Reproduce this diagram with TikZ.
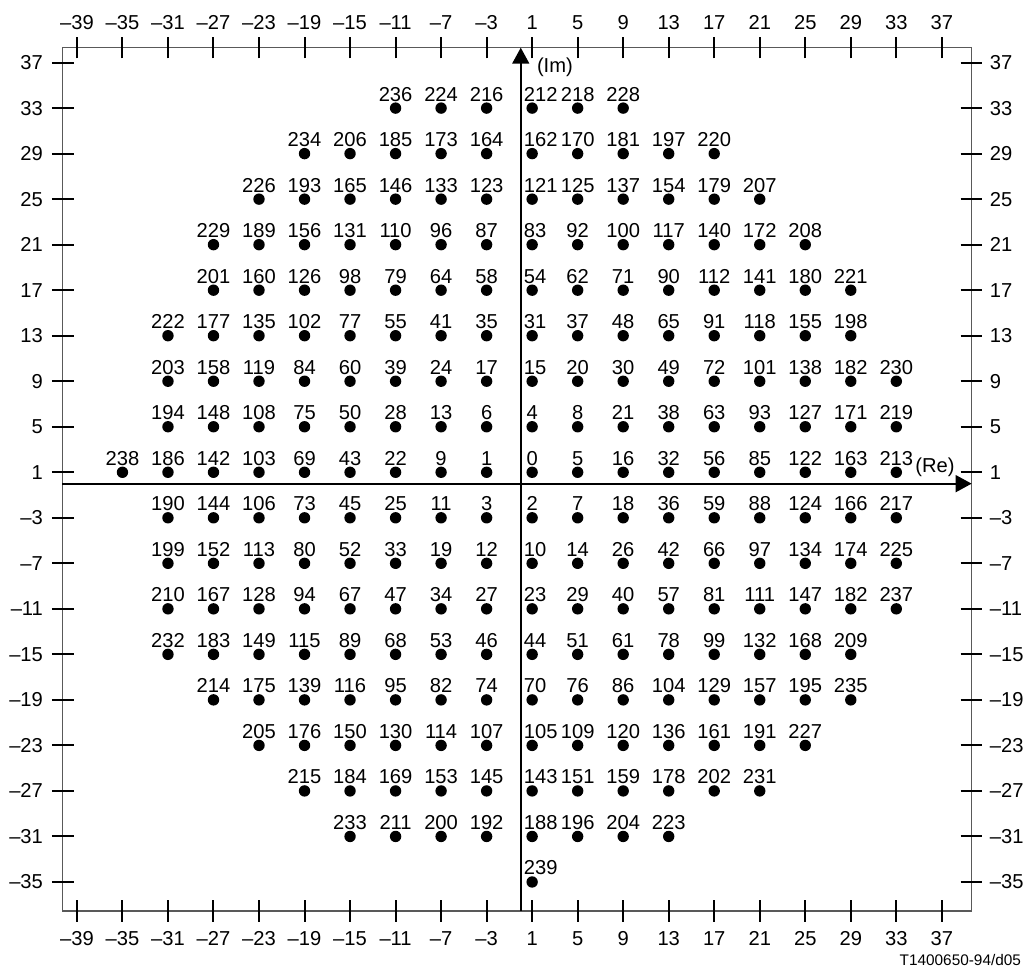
\documentclass[tikz,border=0pt]{standalone}
\usepackage{fontspec}
\setmainfont{Liberation Sans}
\usetikzlibrary{arrows.meta}

\begin{document}
\begin{tikzpicture}[
  x=0.25cm, y=0.25cm,
  font=\fontsize{12.6}{15}\selectfont,
  frm/.style={draw=black!65, line width=0.8pt},
  tck/.style={draw=black, line width=1.25pt},
  axis/.style={draw=black, line width=1.4pt, -{Triangle[length=10pt,width=10.5pt]}},
  dot/.style={circle, fill=black, minimum size=0.25cm, inner sep=0pt},
  lbl/.style={inner sep=0pt, anchor=base},
  tlbl/.style={inner sep=0pt},
]
\useasboundingbox (-45.76,-42.65) rectangle (44.22,42.5);

%% ====================================================
%% Frame, ticks and tick labels
%% ====================================================
\coordinate (fsw) at (-40.29,-37.55);
\coordinate (fne) at (39.62,38.31);
\draw[frm] (fsw) rectangle (fne);

\foreach \t in {-39,-35,...,37} {
  \pgfmathtruncatemacro\a{abs(\t)}
  \draw[tck] (\t,37.36) -- (\t,39.26);
  \draw[tck] (\t,-38.5) -- (\t,-36.6);
  \node[tlbl, anchor=base] (tt\t) at (\t,39.9) {\ifnum\t<0 --\fi\a};
  \node[tlbl, anchor=base] (tb\t) at (\t,-40.62) {\ifnum\t<0 --\fi\a};
}
\foreach \t in {-35,-31,...,37} {
  \pgfmathtruncatemacro\a{abs(\t)}
  \draw[tck] (-41.2,\t) -- (-39.3,\t);
  \draw[tck] (38.65,\t) -- (40.55,\t);
  \node[tlbl, anchor=east] (tl\t) at (-41.96,\t) {\ifnum\t<0 --\fi\a};
  \node[tlbl, anchor=west] (tr\t) at (41.19,\t) {\ifnum\t<0 --\fi\a};
}

%% ====================================================
%% Axes
%% ====================================================
\coordinate (xa0) at (-40.29,0);
\coordinate (xa1) at (39.62,0);
\coordinate (ya0) at (0,-37.55);
\coordinate (ya1) at (0,38.31);
\draw[axis] (xa0) -- (xa1);
\draw[axis] (ya0) -- (ya1);
\node[tlbl, anchor=west] (im) at (1.4,36.55) {(Im)};
\node[tlbl, anchor=east] (re) at (38.15,1.47) {(Re)};

%% ====================================================
%% Signal points (row y / list of x/number)
%% ====================================================
\foreach \y/\row in {
  33/{-11/236,-7/224,-3/216,1/212,5/218,9/228},
  29/{-19/234,-15/206,-11/185,-7/173,-3/164,1/162,5/170,9/181,13/197,17/220},
  25/{-23/226,-19/193,-15/165,-11/146,-7/133,-3/123,1/121,5/125,9/137,13/154,17/179,21/207},
  21/{-27/229,-23/189,-19/156,-15/131,-11/110,-7/96,-3/87,1/83,5/92,9/100,13/117,17/140,21/172,25/208},
  17/{-27/201,-23/160,-19/126,-15/98,-11/79,-7/64,-3/58,1/54,5/62,9/71,13/90,17/112,21/141,25/180,29/221},
  13/{-31/222,-27/177,-23/135,-19/102,-15/77,-11/55,-7/41,-3/35,1/31,5/37,9/48,13/65,17/91,21/118,25/155,29/198},
  9/{-31/203,-27/158,-23/119,-19/84,-15/60,-11/39,-7/24,-3/17,1/15,5/20,9/30,13/49,17/72,21/101,25/138,29/182,33/230},
  5/{-31/194,-27/148,-23/108,-19/75,-15/50,-11/28,-7/13,-3/6,1/4,5/8,9/21,13/38,17/63,21/93,25/127,29/171,33/219},
  1/{-35/238,-31/186,-27/142,-23/103,-19/69,-15/43,-11/22,-7/9,-3/1,1/0,5/5,9/16,13/32,17/56,21/85,25/122,29/163,33/213},
  -3/{-31/190,-27/144,-23/106,-19/73,-15/45,-11/25,-7/11,-3/3,1/2,5/7,9/18,13/36,17/59,21/88,25/124,29/166,33/217},
  -7/{-31/199,-27/152,-23/113,-19/80,-15/52,-11/33,-7/19,-3/12,1/10,5/14,9/26,13/42,17/66,21/97,25/134,29/174,33/225},
  -11/{-31/210,-27/167,-23/128,-19/94,-15/67,-11/47,-7/34,-3/27,1/23,5/29,9/40,13/57,17/81,21/111,25/147,29/182,33/237},
  -15/{-31/232,-27/183,-23/149,-19/115,-15/89,-11/68,-7/53,-3/46,1/44,5/51,9/61,13/78,17/99,21/132,25/168,29/209},
  -19/{-27/214,-23/175,-19/139,-15/116,-11/95,-7/82,-3/74,1/70,5/76,9/86,13/104,17/129,21/157,25/195,29/235},
  -23/{-23/205,-19/176,-15/150,-11/130,-7/114,-3/107,1/105,5/109,9/120,13/136,17/161,21/191,25/227},
  -27/{-19/215,-15/184,-11/169,-7/153,-3/145,1/143,5/151,9/159,13/178,17/202,21/231},
  -31/{-15/233,-11/211,-7/200,-3/192,1/188,5/196,9/204,13/223},
  -35/{1/239}} {
  \foreach \x/\n in \row {
    \node[dot] (pt\x_\y) at (\x,\y) {};
    \ifnum\x=1 \ifnum\n>9
      \node[lbl, anchor=base west] (lb\x_\y) at (0.25,\y+0.62) {\n};
    \else
      \node[lbl] (lb\x_\y) at (\x,\y+0.62) {\n};
    \fi\else
      \node[lbl] (lb\x_\y) at (\x,\y+0.62) {\n};
    \fi
  }
}

%% Figure reference
\node[tlbl, anchor=east, font=\fontsize{9.6}{11}\selectfont] (ref) at (43.98,-41.85) {T1400650-94/d05};

\end{tikzpicture}
\end{document}
